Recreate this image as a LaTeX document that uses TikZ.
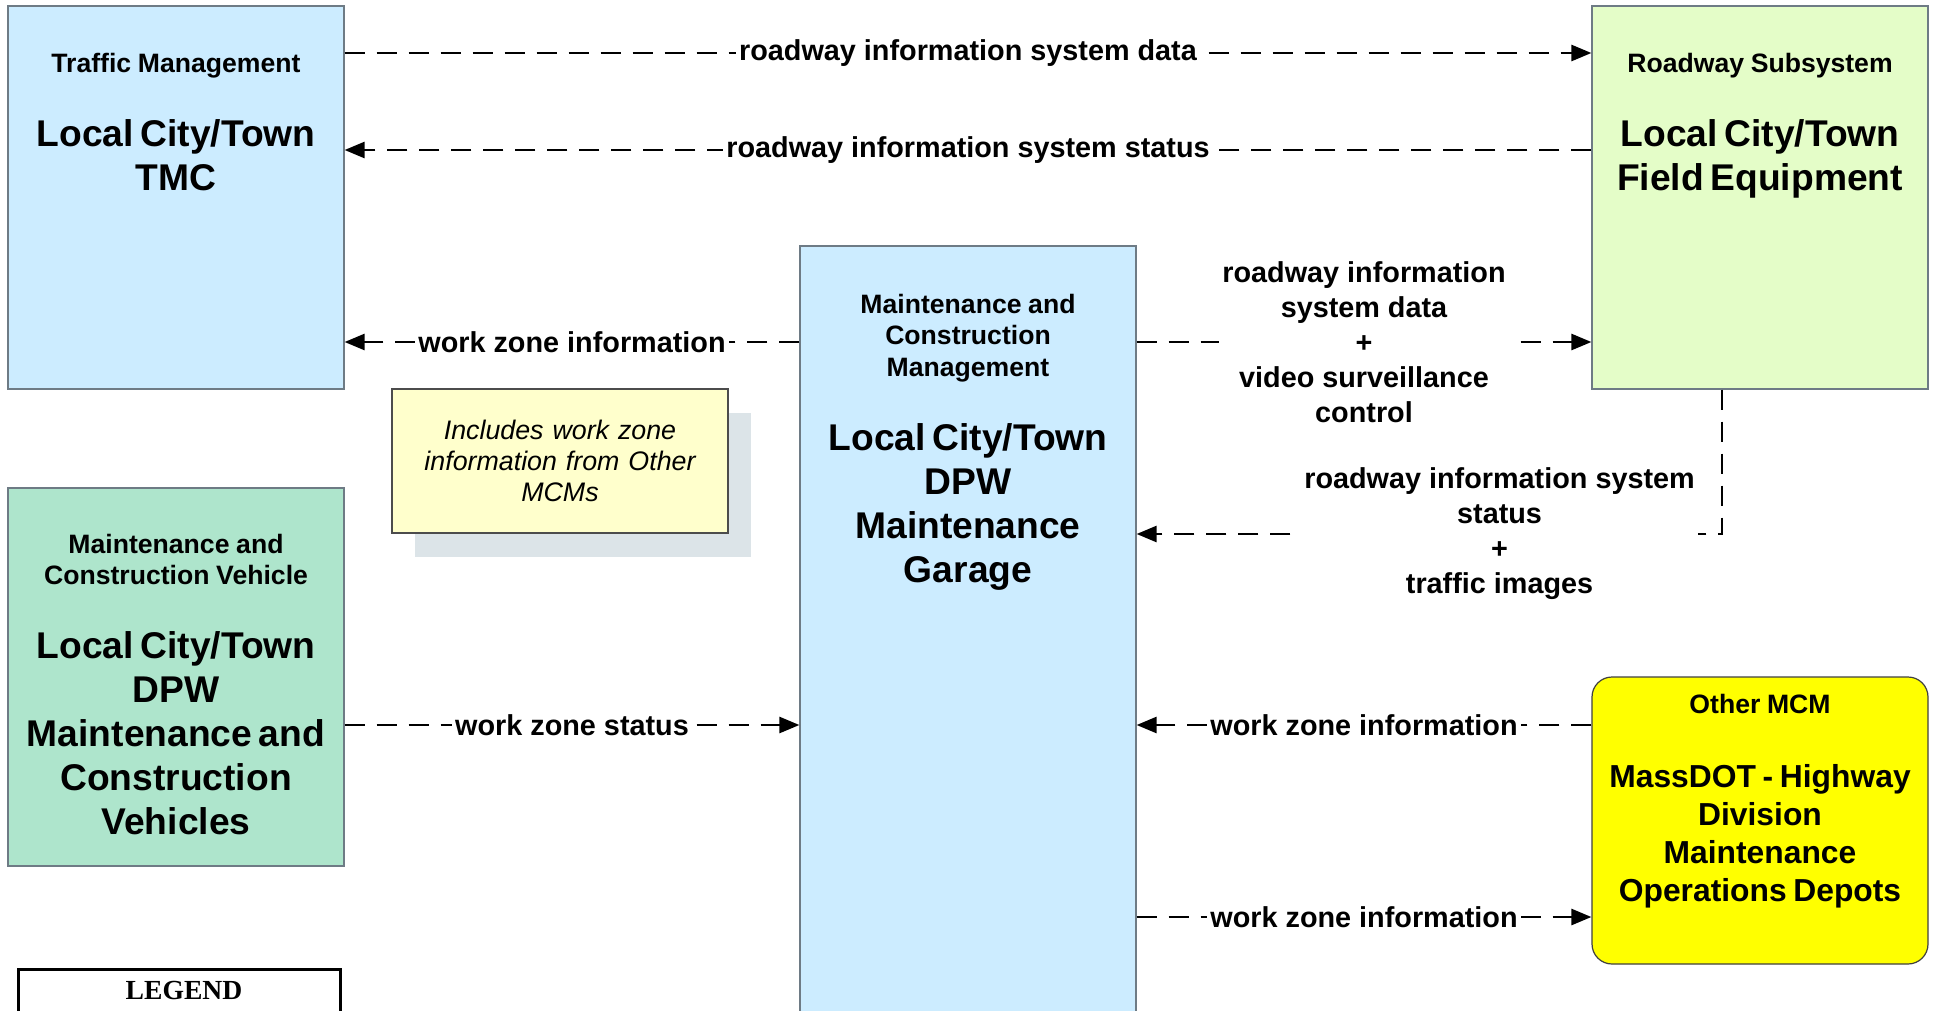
\documentclass[tikz,border=0pt]{standalone}
\usepackage{fontspec}
\setmainfont{Liberation Sans}
\newfontfamily\legendfont{Liberation Serif}
\usepackage{tikz}
\usetikzlibrary{arrows.meta,shadows}
\definecolor{mcmblue}{HTML}{CCECFF}
\definecolor{mcmgreen}{HTML}{E4FDC8}
\definecolor{mcmteal}{HTML}{AEE5CC}
\definecolor{mcmyellow}{HTML}{FFFF00}
\definecolor{mcmnote}{HTML}{FFFFCC}
\definecolor{mcmshadow}{HTML}{DCE4E8}
\definecolor{mcmedge}{HTML}{6E7B85}
\newcommand{\headfont}{\fontsize{13.3}{15.75}\selectfont}
\newcommand{\namefont}{\fontsize{18.6}{22}\selectfont}
\newcommand{\depotfont}{\fontsize{15.9}{19}\selectfont}

\begin{document}
\begin{tikzpicture}[x=0.5pt, y=-0.5pt,
  sysbox/.style={rectangle, draw=mcmedge, line width=0.6pt, minimum width=168pt, inner sep=0pt},
  boxtext/.style={anchor=base, text width=170pt, align=center, font=\bfseries, inner sep=0pt},
  flow/.style={line width=1.3pt, dash pattern=on 10pt off 6pt, -{Triangle[length=10pt,width=8pt]}},
  lbl/.style={fill=white, inner sep=1.5pt, align=center, font=\bfseries\fontsize{14.4}{17.5}\selectfont}]
\useasboundingbox (0,0) rectangle (1937,1011);
\clip (0,0) rectangle (1937,1011);
% subsystems
\node[sysbox, fill=mcmblue, minimum height=191.5pt] (tmc) at (176,197.5) {};
\node[sysbox, fill=mcmgreen, minimum height=191.5pt] (field) at (1760,197.5) {};
\node[sysbox, fill=mcmblue, minimum height=397pt] (garage) at (968,643) {};
\node[sysbox, fill=mcmteal, minimum height=189pt] (vehicle) at (176,677) {};
\node[sysbox, draw=black!75, fill=mcmyellow, rounded corners=10pt, minimum height=143.5pt] (other) at (1760,820.5) {};
\node[boxtext] (tmc-txt) at (176,73) {{\headfont Traffic Management\par}\vspace{15pt}{\namefont Local City/Town\\TMC\par}};
\node[boxtext] (field-txt) at (1760,73) {{\headfont Roadway Subsystem\par}\vspace{15pt}{\namefont Local City/Town\\Field Equipment\par}};
\node[boxtext] (garage-txt) at (968,313) {{\headfont Maintenance and\\Construction\\Management\par}\vspace{15pt}{\namefont Local City/Town\\DPW\\Maintenance\\Garage\par}};
\node[boxtext] (vehicle-txt) at (176,553) {{\headfont Maintenance and\\Construction Vehicle\par}\vspace{15pt}{\namefont Local City/Town\\DPW\\Maintenance and\\Construction\\Vehicles\par}};
\node[boxtext] (other-txt) at (1760,713) {{\headfont Other MCM\par}\vspace{18pt}{\depotfont MassDOT - Highway\\Division\\Maintenance\\Operations Depots\par}};
% note and legend
\node[draw=black!70, line width=0.6pt, fill=mcmnote, minimum width=168pt, minimum height=72pt, text width=165pt, align=center, inner sep=0pt,
  font=\itshape\fontsize{13.4}{15.5}\selectfont,
  drop shadow={shadow xshift=11.5pt, shadow yshift=-12pt, fill=mcmshadow, opacity=1, draw=none}] (note) at (560,461)
  {Includes work zone\\information from Other\\MCMs};
\node[draw, line width=1.5pt, minimum width=161pt, minimum height=60pt, anchor=north, inner sep=0pt] (legend) at (179,968) {};
\node[anchor=base, inner sep=0pt, font=\legendfont\bfseries\fontsize{13.8}{16}\selectfont] (legend-txt) at (184,999) {LEGEND};
% flows
\draw[flow] (tmc.east |- 0,53) -- (field.west |- 0,53) node[lbl, midway] {roadway information system data};
\draw[flow] (field.west |- 0,150) -- (tmc.east |- 0,150) node[lbl, midway] {roadway information system status};
\draw[flow] (garage.west |- 0,342) -- (tmc.east |- 0,342) node[lbl, midway] {work zone information};
\draw[flow] (vehicle.east |- 0,725) -- (garage.west |- 0,725) node[lbl, midway] {work zone status};
\draw[flow] (garage.east |- 0,342) -- (field.west |- 0,342) node[lbl, midway] {roadway information\\system data\\+\\video surveillance\\control};
\draw[flow] (field.south -| 1722,0) |- (garage.east |- 0,534) node[lbl, pos=0.69] {roadway information system\\status\\+\\traffic images};
\draw[flow] (other.west |- 0,725) -- (garage.east |- 0,725) node[lbl, midway] {work zone information};
\draw[flow] (garage.east |- 0,917) -- (other.west |- 0,917) node[lbl, midway] {work zone information};
\end{tikzpicture}
\end{document}
